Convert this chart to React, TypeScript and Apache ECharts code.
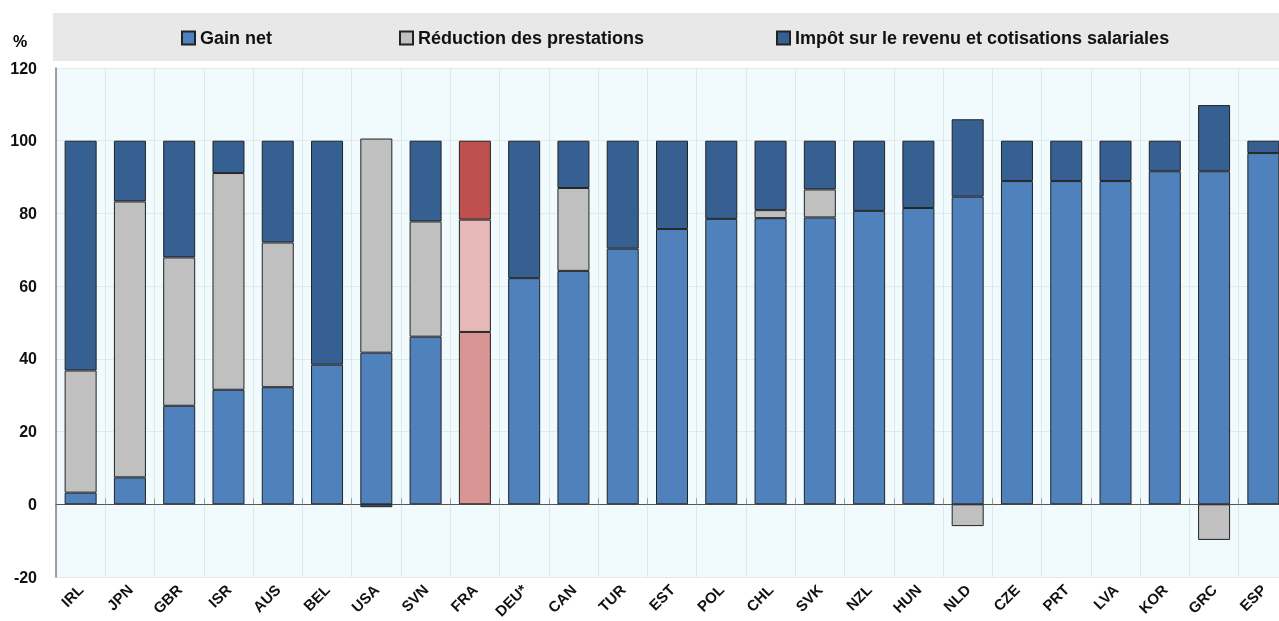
import React, { useEffect, useRef } from "react";
import * as echarts from "echarts";

const categories = ["IRL","JPN","GBR","ISR","AUS","BEL","USA","SVN","FRA","DEU*","CAN","TUR","EST","POL","CHL","SVK","NZL","HUN","NLD","CZE","PRT","LVA","KOR","GRC","ESP"];
const gainNet = [3.2,7.4,27.1,31.5,32.2,38.4,41.7,46.1,47.4,62.2,64.2,70.3,75.7,78.5,78.7,78.9,80.7,81.5,84.6,88.9,88.9,88.9,91.6,91.6,96.6];
const reductionPrestations = [33.6,75.9,40.8,59.6,39.8,null,58.9,31.7,30.9,null,22.8,null,null,null,2.2,7.7,null,null,-6.0,null,null,null,null,-9.8,null];
const impotCotisations = [63.2,16.7,32.1,8.9,28.0,61.6,-0.8,22.2,21.7,37.8,13.0,29.7,24.3,21.5,19.1,13.4,19.3,18.5,21.3,11.1,11.1,11.1,8.4,18.2,3.4];
const yTicks = { min: -20, max: 120, interval: 20 };
const seriesNames = ["Gain net", "Réduction des prestations", "Impôt sur le revenu et cotisations salariales"];
const seriesColors = ["#4f81bd", "#c0c0c0", "#376092"];
const highlight = "FRA";
const highlightColors = ["#d99594", "#e6b9b8", "#c0504d"];

const FONT = "'Liberation Sans', Arial, sans-serif";

export default function App() {
  const ref = useRef<HTMLDivElement>(null);
  useEffect(() => {
    if (!ref.current) return;
    const chart = echarts.init(ref.current, undefined, { renderer: "svg" });
    const arrays = [gainNet, reductionPrestations, impotCotisations];
    const series = arrays.map((arr, si) => ({
      name: seriesNames[si],
      type: "bar",
      stack: "total",
      barWidth: 32,
      itemStyle: { color: seriesColors[si], borderColor: "#222", borderWidth: 1 },
      emphasis: { disabled: true },
      data: arr.map((v, i) =>
        categories[i] === highlight && v !== null
          ? { value: v, itemStyle: { color: highlightColors[si] } }
          : v === null ? "-" : v
      ),
    }));
    const legendLefts = [181, 399, 776];
    chart.setOption({
      animation: false,
      textStyle: { fontFamily: FONT },
      graphic: [
        { type: "rect", left: 53, top: 13, shape: { width: 1250, height: 48 }, style: { fill: "#e8e8e8" }, z: -10 },
        { type: "text", left: 13, top: 33, style: { text: "%", font: `bold 16px ${FONT}`, fill: "#000" } },
      ],
      legend: seriesNames.map((n, i) => ({
        data: [n],
        left: legendLefts[i],
        top: 29,
        padding: 0,
        icon: "rect",
        itemWidth: 13,
        itemHeight: 13,
        selectedMode: false,
        textStyle: { fontSize: 18, fontWeight: "bold", color: "#111", fontFamily: FONT },
      })),
      grid: {
        left: 56,
        right: 2,
        top: 68,
        bottom: 44,
        containLabel: false,
        outerBoundsMode: "none",
        show: true,
        backgroundColor: "#f1fbfd",
        borderWidth: 0,
      },
      xAxis: {
        type: "category",
        data: categories,
        axisLine: { onZero: true, lineStyle: { color: "#555", width: 1 } },
        axisTick: { show: true, inside: true, length: 6, lineStyle: { color: "#999" } },
        splitLine: { show: true, interval: 0, lineStyle: { color: "#dde8eb", width: 1 } },
        axisLabel: {
          interval: 0,
          rotate: 45,
          margin: 10,
          fontSize: 15,
          fontWeight: "bold",
          color: "#111",
          fontFamily: FONT,
        },
      },
      yAxis: {
        type: "value",
        min: yTicks.min,
        max: yTicks.max,
        interval: yTicks.interval,
        axisLine: { show: true, lineStyle: { color: "#808080", width: 1.5 } },
        axisTick: { show: false },
        splitLine: { show: true, lineStyle: { color: "#e2eaec", width: 1 } },
        axisLabel: { fontSize: 16, fontWeight: "bold", color: "#111", margin: 19, fontFamily: FONT },
      },
      series,
    });
    return () => chart.dispose();
  }, []);
  return (
    <div style={{ position: "fixed", left: 0, top: 0, width: 1279, height: 621, overflow: "hidden" }}>
      <div ref={ref} style={{ width: 1290, height: 621 }} />
    </div>
  );
}
